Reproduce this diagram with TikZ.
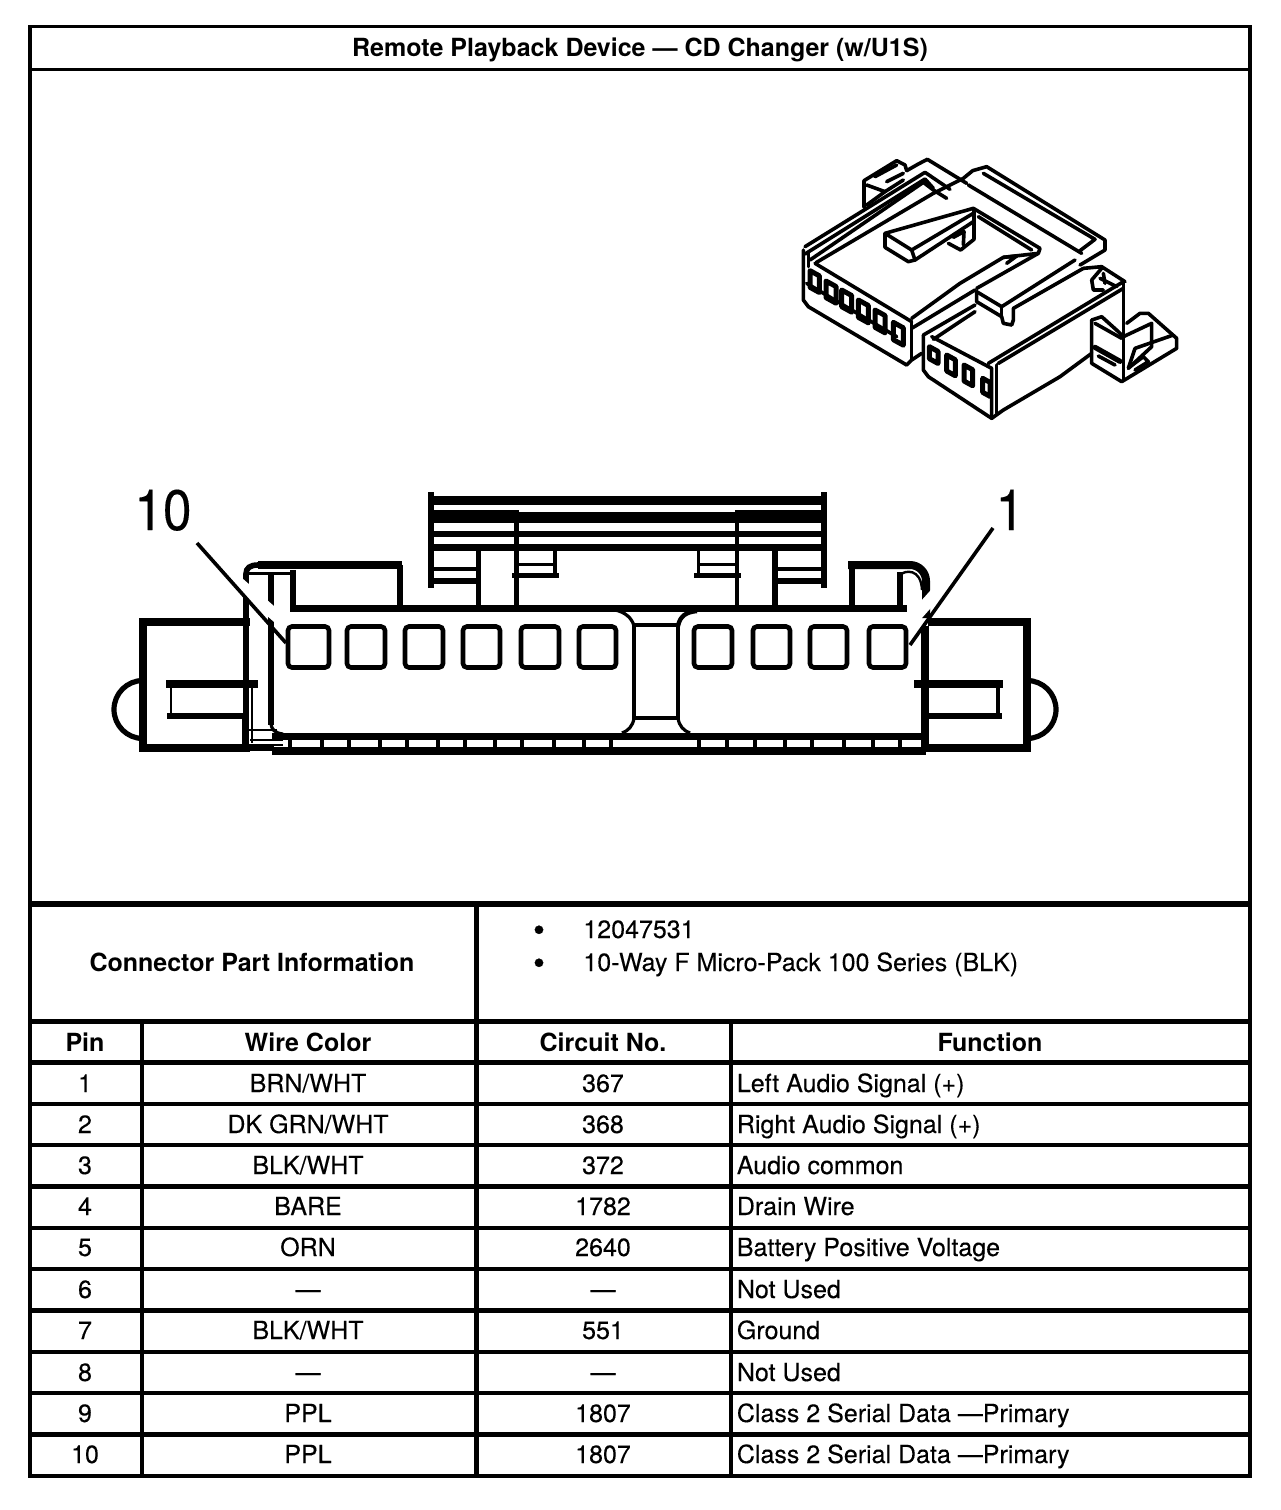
\documentclass[tikz,border=0pt]{standalone}
\usepackage{fontspec}
\setmainfont{TeX Gyre Heros}
\newfontfamily\rgfont{TeX Gyre Heros}[FakeBold=0.2]
\tikzset{
  rule/.style={line width=2.3pt},
  frameline/.style={line width=1.7pt,line cap=rect},
  txt/.style={inner sep=0pt,anchor=base,font=\rgfont\fontsize{12.5pt}{14pt}\selectfont},
  ltxt/.style={txt,anchor=base west},
  bullet/.style={inner sep=0pt,anchor=base,font=\rgfont\fontsize{17pt}{18pt}\selectfont},
  hdr/.style={inner sep=0pt,anchor=base,font=\bfseries\fontsize{12.5pt}{14pt}\selectfont},
  bigno/.style={inner sep=0pt,anchor=base,xscale=0.9,font=\rgfont\fontsize{28.5pt}{30pt}\selectfont},
  thk/.style={line width=3.5pt,line cap=rect},
  med/.style={line width=2.4pt,line cap=rect},
  thn/.style={line width=1.5pt,line cap=rect},
  cavity/.style={line width=2.3pt,rounded corners=2pt},
  iso/.style={line width=1.8pt,line join=round,line cap=round},
  leader/.style={line width=1.8pt},
  halo/.style={line width=6pt,white}
}
\begin{document}
\begin{tikzpicture}[x=0.5pt,y=-0.5pt]
\useasboundingbox (0,0) rectangle (1280,1510);
\fill[white] (0,0) rectangle (1280,1510);
% table frame
\draw[frameline] (30,26.7) -- (1250,26.7) -- (1250,1476);
\draw[frameline] (30,26.7) -- (30,1476) -- (1250,1476);
\draw[frameline] (30,69.3) -- (1250,69.3);
\draw[rule,line width=2.8pt] (30,904) -- (1250,904);
\foreach \y in {1021.5,1062.5,1104,1145,1186.5,1228,1269,1310.5,1352,1393,1434.5}
  \draw[rule] (30,\y) -- (1250,\y);
\draw[rule] (476.5,904) -- (476.5,1476);
\draw[rule] (142,1021) -- (142,1476);
\draw[rule] (731,1021) -- (731,1476);
\node[hdr] (title) at (640,56) {Remote Playback Device — CD Changer (w/U1S)};
\node[hdr] (cpi) at (252,971) {Connector Part Information};
\node[bullet] (b1) at (539,941.5) {•};
\node[bullet] (b2) at (539,974.5) {•};
\node[ltxt] (part) at (583,938) {12047531};
\node[ltxt] (desc) at (583,971) {10-Way F Micro-Pack 100 Series (BLK)};
\node[hdr] (hpin) at (85,1051) {Pin};
\node[hdr] (hwire) at (308,1051) {Wire Color};
\node[hdr] (hcirc) at (603,1051) {Circuit No.};
\node[hdr] (hfunc) at (990,1051) {Function};
\foreach \i/\y/\w/\c/\f in {
 1/1092/BRN\slash WHT/367/Left Audio Signal (+),
 2/1133/DK GRN\slash WHT/368/Right Audio Signal (+),
 3/1174/BLK\slash WHT/372/Audio common,
 4/1215/BARE/1782/Drain Wire,
 5/1256/ORN/2640/Battery Positive Voltage,
 6/1298/—/—/Not Used,
 7/1339/BLK\slash WHT/551/Ground,
 8/1381/—/—/Not Used,
 9/1422/PPL/1807/Class 2 Serial Data —Primary,
 10/1463/PPL/1807/Class 2 Serial Data —Primary}{
  \node[txt] (pin\i) at (85,\y) {\i};
  \node[txt] (wire\i) at (308,\y) {\w};
  \node[txt] (circ\i) at (603,\y) {\c};
  \node[ltxt] (func\i) at (736.5,\y) {\f};
}
% ---------- front view: locking comb
\fill (428,496) rectangle (824,505);
\fill (428,510) rectangle (516,523);
\fill (516,512) rectangle (737,523);
\fill (737,510) rectangle (824,523);
\fill (428,531) rectangle (824,537);
\fill (428,544) rectangle (824,551);
\draw[med,line width=3.4pt] (431,495) -- (431,585);
\draw[med,line width=3.4pt] (824,495) -- (824,585);
\draw[thn,line width=2.4pt] (434,569) -- (478,569);
\draw[thn,line width=3pt] (431,581) -- (478,581);
\draw[med,line width=2.6pt] (478.5,551) -- (478.5,606);
\draw[med,line width=2.4pt] (516.5,512) -- (516.5,606);
\draw[thn,line width=1.6pt] (555,551) -- (555,576);
\draw[thn] (519,564) -- (555,564);
\draw[thn,line width=2.2pt] (514,575.5) -- (557,575.5);
\draw[thn,line width=1.6pt] (698.5,551) -- (698.5,576);
\draw[thn] (698,564) -- (737,564);
\draw[thn,line width=2.2pt] (696,575.5) -- (739,575.5);
\draw[med,line width=2.4pt] (737,512) -- (737,606);
\draw[med,line width=2.6pt] (775,551) -- (775,606);
\draw[thn,line width=2.4pt] (777,569) -- (822,569);
\draw[thn,line width=3pt] (775,581) -- (824,581);
% base line and ears
\draw[thk] (293,608) -- (903,608);
\draw[line width=4pt] (258,565) -- (402,565);
\draw[line width=2.8pt] (246,590) -- (246,574) .. controls (246,568) and (250,565) .. (258,565);
\draw[line width=2.6pt] (400,565) -- (400,606);
\draw[med,line width=3pt] (293,573) -- (293,608);
\draw[thn] (250,573) -- (293,573);
\draw[line width=2.6pt,line cap=rect] (852,606) -- (852,565);
\draw[line width=4pt,line cap=rect,rounded corners=8pt] (852,565) -- (926,565) -- (926,614);
\draw[med,line width=3pt] (900,608) -- (900,575);
\draw[line width=1.2pt] (900,575) .. controls (905,570) and (921,568) .. (922,590);
% left housing
\draw[med,line width=3.6pt] (246,622) -- (143,622) -- (143,748) -- (246,748);
\draw[line width=2.6pt] (143,680.5) arc[start angle=-90,end angle=-270,radius=29];
\draw[med,line width=2.8pt] (246,580) -- (246,746);
\draw[thn,line width=3.8pt] (170,684) -- (254,684);
\draw[thn,line width=2.8pt] (170,716) -- (244,716);
\draw[thn,line width=1.4pt] (171,684) -- (171,716);
\draw[thn,line width=1.2pt] (252,684) -- (252,742);
\draw[med,line width=3pt] (245,716) -- (245,748);
\draw[med,line width=3pt] (271,575) -- (271,722);
\draw[thn,line width=1.4pt] (250,730) -- (276,730);
% right housing
\draw[med,line width=3.6pt] (932,622) -- (1027,622) -- (1027,748) -- (925,748);
\draw[line width=2.6pt] (1027,680.5) arc[start angle=-90,end angle=90,radius=29];
\draw[med,line width=3.8pt] (925,630) -- (925,748);
\draw[thn,line width=3.8pt] (918,684) -- (999,684);
\draw[thn,line width=2.8pt] (928,716) -- (999,716);
\draw[thn,line width=1.8pt] (998,684) -- (998,716);
% bottom band
\fill (272,733) rectangle (926,739.5);
\fill (272,746.5) rectangle (926,755);
\draw[line width=1.2pt] (250,740) -- (283,740);
\draw[line width=1.2pt] (250,745) -- (283,745);
\draw[line width=3.2pt] (246,747.5) -- (274,747.5);
\draw[line width=1.6pt] (271,722) .. controls (271,730) and (275,733) .. (283,734);
\foreach \x in {290,322,349,380,407,438,465,495,522,554,584,611,699,727,755,785,812,844,873,900}
  \fill (\x-2.2,739) rectangle (\x+2.2,747);
% middle bridge
\draw[med,line width=2.4pt] (634,625) rectangle (678,718);
\draw[line width=1.6pt] (615,610) .. controls (625,612) and (632,618) .. (634,626);
\draw[line width=2.2pt] (678,626) .. controls (680,616) and (686,612) .. (697,611);
\draw[line width=1.6pt] (634,718) .. controls (633,726) and (628,731) .. (622,733);
\draw[line width=1.6pt] (678,718) .. controls (679,726) and (684,731) .. (690,733);
% pin cavities
\foreach \n/\a/\b in {c10/288/329,c9/347/385,c8/405/443,c7/463/500,c6/521/559,c5/579/616,
                      c4/694/732,c3/753/790,c2/810/847,c1/869/906}
  \node[draw,cavity,inner sep=0pt,minimum width=(\b-\a)*0.5pt,minimum height=20.5pt] (\n) at ({(\a+\b)/2},647) {};
% leaders
\node[bigno] (n10) at (163,530) {10};
\node[bigno] (n1) at (1010,530) {1};
\coordinate (l10) at (197,543);
\coordinate (l1) at (993,528);
\draw[halo] (210,558) -- (c10.north west);
\draw[halo] (980,544) -- (c1.north east);
\draw[leader] (l10) -- (286,643);
\draw[leader] (l1) -- (910,645);
% ---------- isometric view (3x zoom coordinates)
\begin{scope}[shift={(790,150)},x=0.16667pt,y=-0.16667pt]
\tikzset{every path/.append style={iso}}
% back tab
\draw (222,172) -- (222,92) -- (320,32) -- (345,45) -- (350,62);
\draw (230,105) -- (285,125) -- (230,165);
\draw (255,80) -- (320,45);
\draw (290,95) -- (340,70);
\draw (285,125) -- (340,90);
% rim
\draw (350,62) -- (385,42) -- (412,28) -- (530,100);
\draw (45,290) -- (405,67) -- (480,118);
\draw (45,312) -- (405,87) -- (430,115);
\draw (60,330) -- (400,97) -- (430,120) -- (470,145);
% top face and far band
\draw (78,338) -- (430,130) -- (520,85) -- (548,62) -- (590,50) -- (945,270) -- (945,300) -- (870,345);
\draw (580,70) -- (915,268) -- (870,302);
\draw (535,105) -- (875,310);
% notch with tab
\draw (285,250) -- (550,175) -- (750,295) -- (745,310) -- (640,322) -- (510,400) -- (365,505);
\draw (285,250) -- (285,292) -- (355,335) -- (375,330) -- (550,215);
\draw (285,250) -- (365,300) -- (375,330);
\draw (365,300) -- (550,190);
\draw (565,200) -- (725,300);
\draw (552,180) -- (552,268) -- (512,300) -- (475,280);
\draw (490,262) -- (522,245) -- (520,285);
\draw (745,310) -- (560,415);
\draw (640,322) -- (680,318) -- (650,340);
% front of left body
\draw (75,340) -- (365,515);
\draw (40,300) -- (40,450) -- (55,470) -- (350,645) -- (365,630) -- (395,610);
\draw (55,310) -- (55,350);
\draw (365,515) -- (365,630);
\draw (50,400) -- (320,560);
\draw (365,535) -- (555,420);
% latch
\draw (560,425) -- (635,470) -- (855,330);
\draw (560,425) -- (560,455) -- (635,500) -- (640,520) -- (665,525) -- (670,510) -- (670,475) -- (880,355);
\draw (635,470) -- (635,500);
% lower body
\draw (400,555) -- (555,465);
\draw (430,568) -- (555,485);
\draw (400,555) -- (400,660) -- (415,680) -- (605,805) -- (640,780) -- (810,680) -- (905,610);
\draw (425,560) -- (605,655) -- (605,805);
\draw (620,645) -- (620,790);
\draw (595,640) -- (1000,395);
\draw (625,640) -- (1000,415);
\draw (1000,400) -- (1000,560);
\draw (880,355) -- (935,350) -- (1005,395);
\draw (905,390) -- (935,355);
\draw (905,390) -- (910,420) -- (940,420);
\draw (930,385) -- (980,410);
\draw (940,370) -- (945,400);
% right tab
\draw (905,510) -- (935,500) -- (985,545) -- (1000,560);
\draw (905,510) -- (905,640) -- (995,695) -- (1160,595) -- (1160,565) -- (1075,490) -- (1050,490) -- (1010,520);
\draw (915,520) -- (995,565);
\draw (1000,560) -- (1000,690);
\draw (1000,560) -- (1085,520) -- (1085,590) -- (1015,655);
\draw (1035,595) -- (1150,555);
\draw (1035,595) -- (1015,655);
\draw (1020,650) -- (1060,620) -- (1075,635) -- (1035,660);
\draw[line width=2.6pt] (915,592) -- (990,634);
\draw (925,618) -- (975,645);
% slots
\foreach \x/\y/\w/\h in {60/362/28/50, 108/393/30/50, 155/420/30/50, 205/450/30/52, 255/480/30/52, 310/517/30/52,
                          418/590/26/36, 470/615/26/48, 522/645/26/48, 578/685/22/42}
  \draw[line width=2.5pt] (\x,\y) -- (\x+\w,\y+\w*0.55) -- (\x+\w,\y+\w*0.55+\h) -- (\x,\y+\h) -- cycle;
\end{scope}
\end{tikzpicture}
\end{document}
